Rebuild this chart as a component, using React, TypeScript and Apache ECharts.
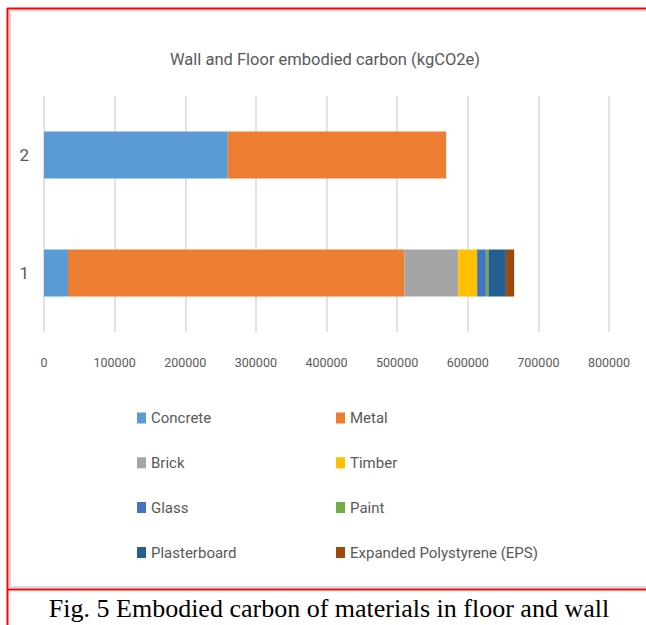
import React, { useEffect, useRef } from "react";
import * as echarts from "echarts";

const categories = ["1", "2"];
const seriesNames = [
  "Concrete",
  "Metal",
  "Brick",
  "Timber",
  "Glass",
  "Paint",
  "Plasterboard",
  "Expanded Polystyrene (EPS)",
];
const concrete = [34000, 260200];
const metal = [476300, 309200];
const brick = [76500, 0];
const timber = [26500, 0];
const glass = [12300, 0];
const paint = [3700, 0];
const plasterboard = [24700, 0];
const eps = [11700, 0];
const seriesValues = [concrete, metal, brick, timber, glass, paint, plasterboard, eps];
const colors = ["#5B9BD5", "#ED7D31", "#A5A5A5", "#FFC000", "#4472C4", "#70AD47", "#255E91", "#9E480E"];

const FONT = 'Roboto, "Liberation Sans", sans-serif';

export default function App() {
  const ref = useRef<HTMLDivElement>(null);
  useEffect(() => {
    if (!ref.current) return;
    const chart = echarts.init(ref.current, undefined, { renderer: "svg" });
    const legendCols = [137, 336];
    const legendRows = [418.5, 463.3, 508, 553];
    const legends = seriesNames.map((name, i) => ({
      data: [name],
      left: legendCols[i % 2],
      top: legendRows[Math.floor(i / 2)] - 8,
      orient: "horizontal",
      padding: 0,
      icon: "rect",
      itemWidth: 9,
      itemHeight: 11,
      selectedMode: false,
      textStyle: { color: "#595959", fontSize: 15, fontFamily: FONT },
    }));
    chart.setOption({
      animation: false,
      backgroundColor: "#ffffff",
      color: colors,
      title: {
        text: "Wall and Floor embodied carbon (kgCO2e)",
        left: 320,
        textAlign: "center",
        top: 46,
        textStyle: { color: "#595959", fontSize: 16.5, fontWeight: "normal", fontFamily: FONT },
      },
      legend: legends,
      grid: { left: 44, right: 37, top: 96, height: 236, containLabel: false },
      xAxis: {
        type: "value",
        min: 0,
        max: 800000,
        interval: 100000,
        axisLine: { show: false },
        axisTick: { show: false },
        splitLine: { show: true, lineStyle: { color: "#d9d9d9", width: 1.5 } },
        axisLabel: {
          color: "#595959",
          fontSize: 12.5,
          fontFamily: FONT,
          margin: 24,
          formatter: (v: number) => String(v),
        },
      },
      yAxis: {
        type: "category",
        data: categories,
        axisLine: { show: false },
        axisTick: { show: false },
        axisLabel: { color: "#595959", fontSize: 17, fontFamily: FONT, margin: 15 },
      },
      series: seriesNames.map((name, i) => ({
        name,
        type: "bar",
        stack: "total",
        barWidth: 47,
        data: seriesValues[i],
        itemStyle: { color: colors[i] },
      })),
      graphic: [
        { type: "line", shape: { x1: 10, y1: 10.5, x2: 646, y2: 10.5 }, style: { stroke: "#d9d9d9", lineWidth: 2 } },
        { type: "line", shape: { x1: 10, y1: 10, x2: 10, y2: 587 }, style: { stroke: "#d9d9d9", lineWidth: 2 } },
        { type: "line", shape: { x1: 10, y1: 587, x2: 646, y2: 587 }, style: { stroke: "#d9d9d9", lineWidth: 2 } },
        { type: "line", shape: { x1: 7, y1: 8.5, x2: 646, y2: 8.5 }, style: { stroke: "#ff0000", lineWidth: 2 } },
        { type: "line", shape: { x1: 7.5, y1: 8, x2: 7.5, y2: 625 }, style: { stroke: "#ff0000", lineWidth: 2 } },
        { type: "line", shape: { x1: 7, y1: 589.5, x2: 646, y2: 589.5 }, style: { stroke: "#ff0000", lineWidth: 2 } },
        {
          type: "text",
          x: 329,
          y: 608,
          style: {
            text: "Fig. 5 Embodied carbon of materials in floor and wall",
            fill: "#000000",
            font: '26px "Liberation Serif", "Times New Roman", serif',
            textAlign: "center",
            textVerticalAlign: "middle",
          },
        },
      ],
    });
    return () => chart.dispose();
  }, []);
  return (
    <div style={{ position: "fixed", left: 0, top: 0, width: 646, height: 625, background: "#fff" }}>
      <div ref={ref} style={{ width: 646, height: 625 }} />
    </div>
  );
}
